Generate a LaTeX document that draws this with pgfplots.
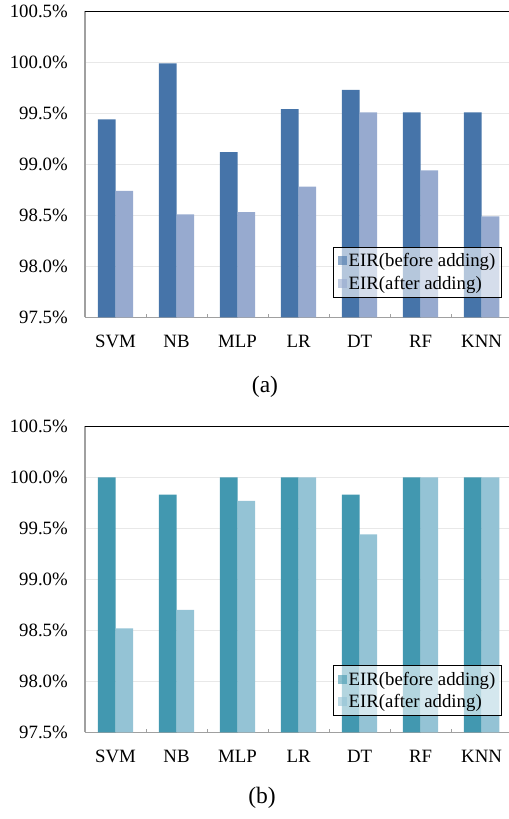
\documentclass[border=0pt]{standalone}
\usepackage{fontspec}
\setmainfont{Liberation Serif}
\usepackage{pgfplots}
\pgfplotsset{compat=1.18}

\definecolor{aDark}{HTML}{4674A9}
\definecolor{aLight}{HTML}{97AACF}
\definecolor{bDark}{HTML}{4298B0}
\definecolor{bLight}{HTML}{94C3D5}
\definecolor{axgray}{HTML}{A0A0A0}

\newcommand{\chartfont}{\fontsize{18.8bp}{22bp}\selectfont}
\newcommand{\capfont}{\fontsize{23.5bp}{27bp}\selectfont}

\pgfplotsset{
  eirpanel/.style={
    scale only axis,
    width=424bp, height=306bp,
    anchor=south west,
    ybar=0pt, bar width=17.7bp,
    xmin=-0.5, xmax=6.45,
    ymin=97.5, ymax=100.5,
    xtick={0,1,2,3,4,5,6},
    xticklabels={SVM,NB,MLP,LR,DT,RF,KNN},
    minor xtick={0.5,1.5,2.5,3.5,4.5,5.5},
    ytick={97.5,98,98.5,99,99.5,100,100.5},
    major tick length=0pt,
    minor tick length=3.5bp,
    tick align=inside,
    tick style={axgray, line width=0.8bp},
    axis x line*=bottom, axis y line*=left,
    axis line style={axgray, line width=1.3bp},
    ymajorgrids, grid style={gray!18, line width=1bp},
    /pgf/number format/assume math mode=true,
    yticklabel={\pgfmathprintnumber[fixed,fixed zerofill,precision=1]{\tick}\%},
    tick label style={font=\chartfont, inner sep=0pt},
    yticklabel style={anchor=east, xshift=-17bp},
    xticklabel style={anchor=base, yshift=-30bp},
    legend cell align=left,
    legend image code/.code={\fill[##1] (0bp,-4.5bp) rectangle (9bp,4.5bp);},
    legend style={anchor=south east, draw=black, line width=0.9bp,
      fill=white, fill opacity=0.6, draw opacity=1, text opacity=1,
      font=\chartfont, inner xsep=4bp, inner ysep=4bp, row sep=4bp},
  }
}

\begin{document}
\begin{tikzpicture}
% (a)
\begin{axis}[eirpanel, at={(85bp,501.7bp)},
  legend style={at={(0.983,0.065)}}]
\addplot[fill=aDark, draw=none] coordinates {
  (0,99.44) (1,99.99) (2,99.12) (3,99.54) (4,99.73) (5,99.51) (6,99.51)};
\addplot[fill=aLight, draw=none] coordinates {
  (0,98.74) (1,98.51) (2,98.53) (3,98.78) (4,99.51) (5,98.94) (6,98.49)};
\legend{EIR(before adding),EIR(after adding)}
\draw[black, line width=1bp] (rel axis cs:0,1) -- (rel axis cs:1,1);
\end{axis}
\node[font=\capfont] at (265bp,432bp) {(a)};

% (b)
\begin{axis}[eirpanel, at={(85bp,86.7bp)},
  legend style={at={(0.983,0.054)}}]
\addplot[fill=bDark, draw=none] coordinates {
  (0,100) (1,99.83) (2,100) (3,100) (4,99.83) (5,100) (6,100)};
\addplot[fill=bLight, draw=none] coordinates {
  (0,98.52) (1,98.70) (2,99.77) (3,100) (4,99.44) (5,100) (6,100)};
\legend{EIR(before adding),EIR(after adding)}
\draw[black, line width=1bp] (rel axis cs:0,1) -- (rel axis cs:1,1);
\end{axis}
\node[font=\capfont] at (262bp,21bp) {(b)};

% fix the page to the reference's size
\pgfresetboundingbox
\useasboundingbox (0bp,0bp) rectangle (509bp,819bp);
\end{tikzpicture}
\end{document}
